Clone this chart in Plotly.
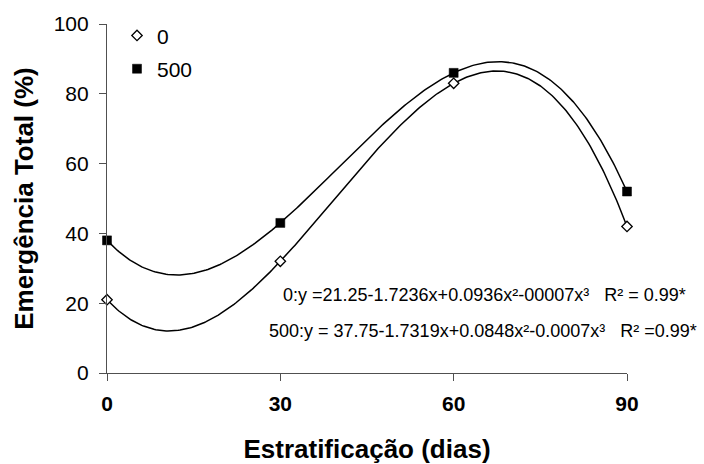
import numpy as np
import plotly.graph_objects as go

# Data
dias = [0, 30, 60, 90]
emerg_0 = [21, 32, 83, 42]
emerg_500 = [38, 43, 86, 52]
x_ticks = [0, 30, 60, 90]
y_ticks = [0, 20, 40, 60, 80, 100]
eq_0 = "0:y =21.25-1.7236x+0.0936x²-00007x³   R² = 0.99*"
eq_500 = "500:y = 37.75-1.7319x+0.0848x²-0.0007x³   R² =0.99*"

FONT = "Arial, 'Liberation Sans', sans-serif"

xs = np.linspace(min(dias), max(dias), 300)
fit0 = np.polyval(np.polyfit(dias, emerg_0, 3), xs)
fit500 = np.polyval(np.polyfit(dias, emerg_500, 3), xs)

fig = go.Figure()
fig.add_trace(go.Scatter(x=xs, y=fit0, mode="lines", line=dict(color="black", width=1.5),
                         showlegend=False, hoverinfo="skip"))
fig.add_trace(go.Scatter(x=xs, y=fit500, mode="lines", line=dict(color="black", width=1.5),
                         showlegend=False, hoverinfo="skip"))
fig.add_trace(go.Scatter(x=dias, y=emerg_0, mode="markers", name="0", legendgroup="a",
                         marker=dict(symbol="diamond", size=8, color="white",
                                     line=dict(color="black", width=1.3)),
                         cliponaxis=False))
fig.add_trace(go.Scatter(x=dias, y=emerg_500, mode="markers", name="500", legendgroup="b",
                         marker=dict(symbol="square", size=9, color="black",
                                     line=dict(color="black", width=0.5)),
                         cliponaxis=False))

fig.add_annotation(x=(281 - 107) / 520, y=(373 - 295) / 349, xref="paper", yref="paper",
                   text=eq_0, showarrow=False, xanchor="left", yanchor="middle",
                   font=dict(family=FONT, size=18, color="black"))
fig.add_annotation(x=(267 - 107) / 520, y=(373 - 331) / 349, xref="paper", yref="paper",
                   text=eq_500, showarrow=False, xanchor="left", yanchor="middle",
                   font=dict(family=FONT, size=18, color="black"))

axis_color = "#505050"
fig.update_layout(
    width=704, height=464,
    margin=dict(l=107, r=77, t=24, b=91),
    paper_bgcolor="white", plot_bgcolor="white",
    font=dict(family=FONT, color="black"),
    showlegend=True,
    legend=dict(x=(117 - 107) / 520, y=1.025, xanchor="left", yanchor="top",
                font=dict(family=FONT, size=21, color="black"),
                bgcolor="rgba(0,0,0,0)", tracegroupgap=3, itemwidth=30),
    xaxis=dict(range=[0, 90], tickvals=x_ticks, ticktext=[str(v) for v in x_ticks],
               automargin=False,
               showgrid=False, zeroline=False, showline=True, linecolor=axis_color,
               linewidth=1.2, ticks="outside", ticklen=7, tickcolor=axis_color,
               tickwidth=1.2, tickfont=dict(family=FONT, size=21, color="black",
                                            weight="bold"),
               ticklabelstandoff=5,
               title=dict(text="Estratificação (dias)", standoff=28,
                          font=dict(family=FONT, size=26, color="black", weight="bold"))),
    yaxis=dict(range=[0, 100], tickvals=y_ticks, showgrid=False, zeroline=False,
               automargin=False,
               showline=True, linecolor=axis_color, linewidth=1.2, ticks="outside",
               ticklen=7, tickcolor=axis_color, tickwidth=1.2,
               tickfont=dict(family=FONT, size=21, color="black"),
               ticklabelstandoff=6,
               title=dict(text="Emergência Total (%)", standoff=12,
                          font=dict(family=FONT, size=26, color="black", weight="bold"))),
)

fig.write_html("out.html")
